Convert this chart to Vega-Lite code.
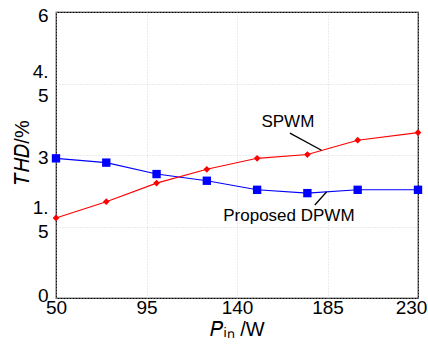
{
  "$schema": "https://vega.github.io/schema/vega-lite/v6.json",
  "width": 362,
  "height": 286,
  "autosize": "none",
  "padding": {"left": 56, "top": 12, "right": 10, "bottom": 49},
  "background": "white",
  "config": {
    "font": "Liberation Sans",
    "view": {"stroke": "#000000", "strokeWidth": 1.2},
    "axis": {
      "labelFont": "Liberation Sans",
      "titleFont": "Liberation Sans",
      "labelColor": "#000000",
      "titleColor": "#000000",
      "labelFontSize": 19,
      "titleFontSize": 20,
      "titleFontWeight": "normal",
      "domain": false,
      "ticks": false,
      "labelFlush": false,
      "labelOverlap": false,
      "gridColor": "#cccccc",
      "gridDash": [1, 2],
      "gridWidth": 0.8
    }
  },
  "datasets": {
    "series": [
      {"p": 50, "thd": 2.93, "s": "DPWM"},
      {"p": 75, "thd": 2.84, "s": "DPWM"},
      {"p": 100, "thd": 2.6, "s": "DPWM"},
      {"p": 125, "thd": 2.46, "s": "DPWM"},
      {"p": 150, "thd": 2.27, "s": "DPWM"},
      {"p": 175, "thd": 2.2, "s": "DPWM"},
      {"p": 200, "thd": 2.27, "s": "DPWM"},
      {"p": 230, "thd": 2.27, "s": "DPWM"},
      {"p": 50, "thd": 1.68, "s": "SPWM"},
      {"p": 75, "thd": 2.02, "s": "SPWM"},
      {"p": 100, "thd": 2.41, "s": "SPWM"},
      {"p": 125, "thd": 2.7, "s": "SPWM"},
      {"p": 150, "thd": 2.93, "s": "SPWM"},
      {"p": 175, "thd": 3.01, "s": "SPWM"},
      {"p": 200, "thd": 3.31, "s": "SPWM"},
      {"p": 230, "thd": 3.47, "s": "SPWM"}
    ],
    "labels": [
      {"p": 165.3, "thd": 3.7, "t": "SPWM"},
      {"p": 165.8, "thd": 1.72, "t": "Proposed DPWM"}
    ],
    "leaders": [
      {"p": 166.3, "thd": 3.46, "p2": 182, "thd2": 3.1},
      {"p": 178.7, "thd": 1.95, "p2": 184.6, "thd2": 2.23}
    ]
  },
  "encoding": {
    "x": {
      "field": "p",
      "type": "quantitative",
      "scale": {"domain": [50, 230], "nice": false, "zero": false},
      "axis": {
        "values": [50, 95, 140, 185, 230],
        "title": "𝑃ᵢₙ /W",
        "labelPadding": 0,
        "titlePadding": 2,
        "labelOffset": {"condition": {"test": "datum.value == 230", "value": -7}, "value": 0}
      }
    },
    "y": {
      "field": "thd",
      "type": "quantitative",
      "scale": {"domain": [0, 6], "nice": false},
      "axis": {
        "values": [0, 1.5, 3, 4.5, 6],
        "title": "𝑇𝐻𝐷/%",
        "titleX": -34,
        "titleY": 140,
        "titleBaseline": "middle",
        "titleAlign": "center",
        "titleAngle": -90,
        "labelPadding": 8,
        "labelLineHeight": 24,
        "labelOffset": {
          "condition": [
            {"test": "datum.value == 1.5", "value": -19},
            {"test": "datum.value == 4.5", "value": -12},
            {"test": "datum.value == 0", "value": -3},
            {"test": "datum.value == 6", "value": 3}
          ],
          "value": 2
        },
        "labelExpr": "datum.value == 1.5 ? ['1.', '5'] : datum.value == 4.5 ? ['4.', '5'] : datum.label"
      }
    }
  },
  "layer": [
    {
      "data": {"name": "series"},
      "mark": {"type": "line", "strokeWidth": 1.1},
      "encoding": {
        "color": {"field": "s", "type": "nominal", "scale": {"domain": ["DPWM", "SPWM"], "range": ["#0000ff", "#ff0000"]}, "legend": null}
      }
    },
    {
      "data": {"name": "series"},
      "mark": {"type": "point", "filled": true, "opacity": 1},
      "encoding": {
        "color": {"field": "s", "type": "nominal", "scale": {"domain": ["DPWM", "SPWM"], "range": ["#0000ff", "#ff0000"]}, "legend": null},
        "shape": {"field": "s", "type": "nominal", "scale": {"domain": ["DPWM", "SPWM"], "range": ["square", "diamond"]}, "legend": null},
        "size": {"field": "s", "type": "nominal", "scale": {"domain": ["DPWM", "SPWM"], "range": [70, 45]}, "legend": null}
      }
    },
    {
      "data": {"name": "leaders"},
      "mark": {"type": "rule", "color": "#000000", "strokeWidth": 1.3},
      "encoding": {
        "x2": {"field": "p2"},
        "y2": {"field": "thd2"}
      }
    },
    {
      "data": {"name": "labels"},
      "mark": {"type": "text", "fontSize": 17, "color": "#000000", "align": "center", "baseline": "middle"},
      "encoding": {"text": {"field": "t"}}
    }
  ]
}
